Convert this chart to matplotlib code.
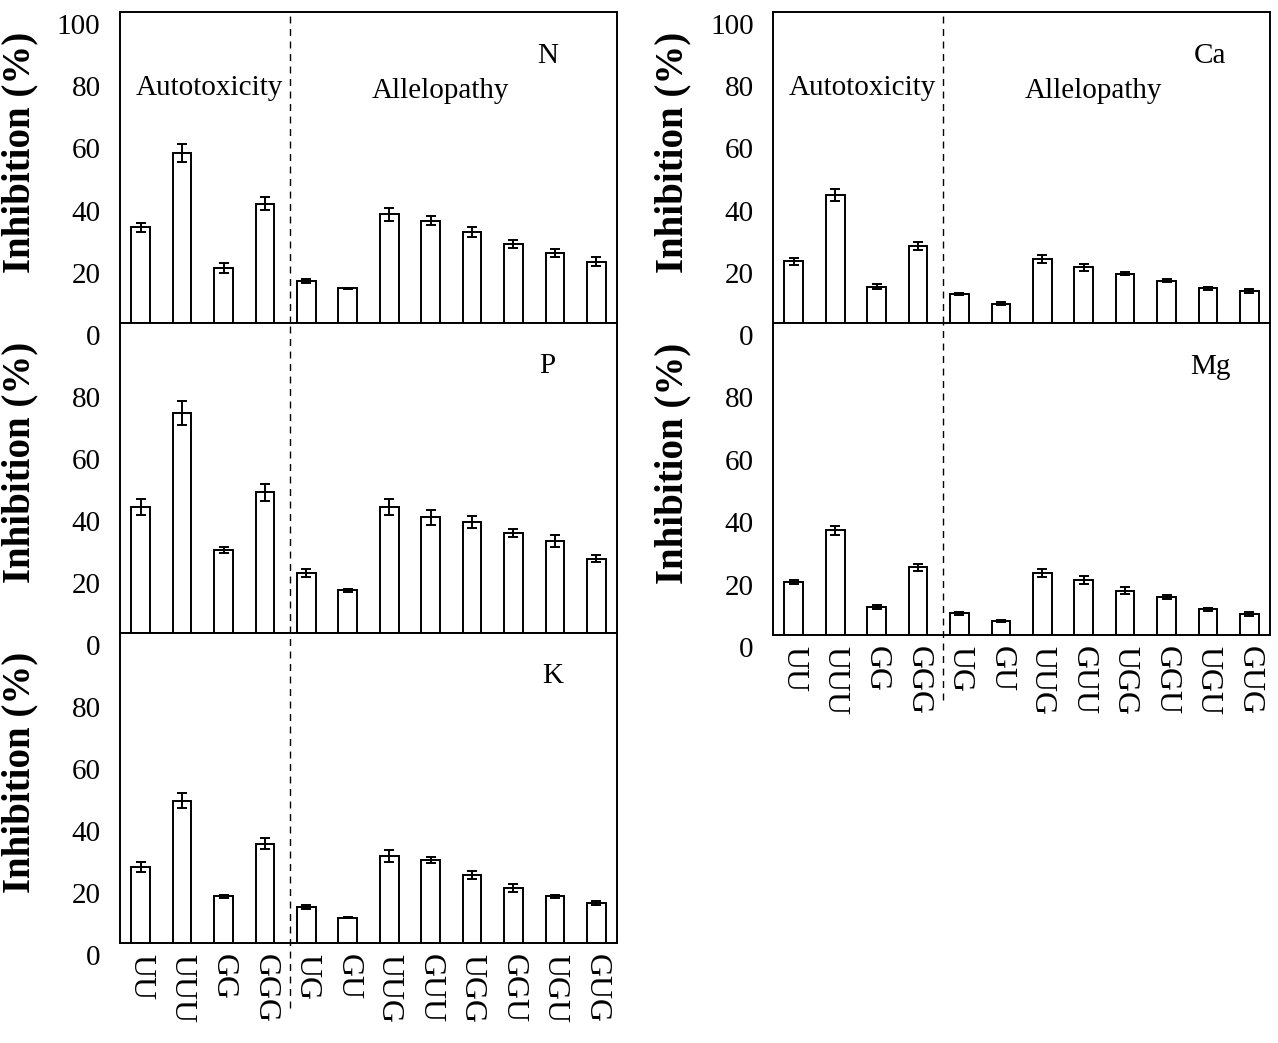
import matplotlib.pyplot as plt
import matplotlib.transforms as mtransforms

plt.rcParams['font.family'] = ['Liberation Serif', 'DejaVu Serif']

treatments = ["UU", "UUU", "GG", "GGG", "UG", "GU", "UUG", "GUU", "UGG", "GGU", "UGU", "GUG"]

n_mean = [30.8, 54.7, 17.7, 38.4, 13.6, 11.1, 34.9, 32.9, 29.3, 25.4, 22.5, 19.7]
n_err = [1.4, 3.0, 1.5, 2.0, 0.7, 0.3, 2.0, 1.5, 1.5, 1.2, 1.2, 1.5]

p_mean = [40.7, 70.9, 26.9, 45.4, 19.4, 13.8, 40.7, 37.3, 35.9, 32.4, 29.7, 24.0]
p_err = [2.5, 3.8, 1.0, 2.8, 1.2, 0.5, 2.5, 2.5, 2.0, 1.3, 2.0, 1.2]

k_mean = [24.5, 45.9, 15.1, 32.0, 11.6, 8.2, 28.0, 26.7, 21.8, 17.7, 15.1, 12.9]
k_err = [1.5, 2.5, 0.5, 1.8, 0.5, 0.3, 2.0, 1.0, 1.3, 1.2, 0.5, 0.5]

ca_mean = [19.8, 41.1, 11.6, 24.7, 9.4, 6.2, 20.6, 17.9, 15.9, 13.6, 11.1, 10.3]
ca_err = [1.2, 2.0, 0.8, 1.2, 0.4, 0.4, 1.2, 1.2, 0.6, 0.4, 0.6, 0.6]

mg_mean = [17.1, 33.5, 9.0, 21.7, 6.9, 4.5, 19.8, 17.6, 14.2, 12.2, 8.2, 6.7]
mg_err = [0.6, 1.5, 0.6, 1.2, 0.6, 0.3, 1.2, 1.2, 1.2, 0.6, 0.6, 0.6]

FS = 21

fig = plt.figure(figsize=(12.78, 10.43), dpi=100)

# name, means, errors, [x0, y0, w, h], top row?, bottom row?, label x
panels = [
    ("N", n_mean, n_err, [0.0939, 0.6903, 0.3889, 0.2982], True, False, 0.86),
    ("P", p_mean, p_err, [0.0939, 0.3931, 0.3889, 0.2972], False, False, 0.86),
    ("K", k_mean, k_err, [0.0939, 0.0959, 0.3889, 0.2972], False, True, 0.87),
    ("Ca", ca_mean, ca_err, [0.6049, 0.6903, 0.3889, 0.2982], True, False, 0.88),
    ("Mg", mg_mean, mg_err, [0.6049, 0.3912, 0.3889, 0.2991], False, True, 0.88),
]

label_shift = mtransforms.ScaledTranslation(0, -0.12, fig.dpi_scale_trans)
x = list(range(len(treatments)))

for name, mean, err, rect, top, bottom, lx in panels:
    ax = fig.add_axes(rect)
    ax.bar(x, mean, width=0.45, color="white", edgecolor="black", linewidth=1.4, zorder=2)
    ax.errorbar(x, mean, yerr=err, fmt="none", ecolor="black", elinewidth=1.4,
                capsize=3.5, capthick=1.4, zorder=3)
    ax.set_xlim(-0.5, 11.5)
    ax.set_ylim(0, 100)
    if top:
        ax.set_yticks([0, 20, 40, 60, 80, 100])
    else:
        ax.set_yticks([0, 20, 40, 60, 80])
    ax.tick_params(axis="y", length=0, pad=14, labelsize=FS)
    for lab in ax.get_yticklabels():
        lab.set_transform(lab.get_transform() + label_shift)
    ax.set_xticks(x)
    if bottom:
        ax.set_xticklabels(treatments, rotation=270, fontsize=23, va="top", ha="center")
        ax.tick_params(axis="x", length=0, pad=8)
        ax.axvline(3.6, ymin=-0.21, ymax=1, color="black", linestyle=(0, (5, 4)),
                   linewidth=1.0, clip_on=False, zorder=1)
    else:
        ax.set_xticklabels([])
        ax.tick_params(axis="x", length=0)
        ax.axvline(3.6, color="black", linestyle=(0, (5, 4)), linewidth=1.0, zorder=1)
    for sp in ax.spines.values():
        sp.set_linewidth(1.4)
    ax.set_ylabel("Inhibition (%)", fontsize=28, fontweight="bold")
    ax.yaxis.set_label_coords(-0.165, 0.55)
    ax.text(lx, 0.86, name, transform=ax.transAxes, fontsize=FS, ha="center", va="center")
    if top:
        ax.text(0.18, 0.755, "Autotoxicity", transform=ax.transAxes, fontsize=FS,
                ha="center", va="center")
        ax.text(0.645, 0.745, "Allelopathy", transform=ax.transAxes, fontsize=FS,
                ha="center", va="center")

fig.savefig("out.png", dpi=100)
